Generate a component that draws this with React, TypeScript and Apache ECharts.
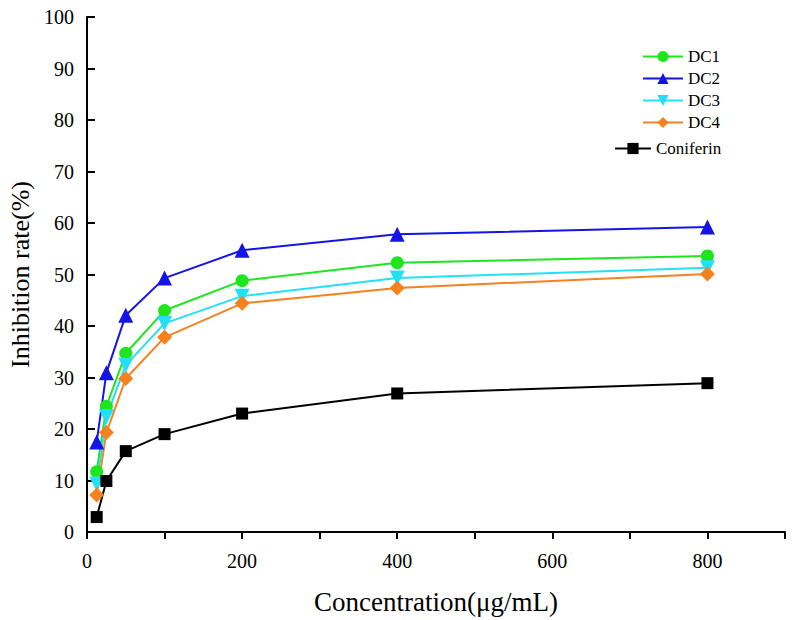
import { useEffect, useRef } from "react";
import * as echarts from "echarts";

const concentrations = [12.5, 25, 50, 100, 200, 400, 800];
const dc1 = [11.7, 24.4, 34.7, 43.0, 48.8, 52.3, 53.6];
const dc2 = [17.5, 30.9, 42.1, 49.3, 54.7, 57.8, 59.2];
const dc3 = [9.3, 22.4, 32.4, 40.5, 45.8, 49.3, 51.3];
const dc4 = [7.2, 19.3, 29.8, 37.8, 44.4, 47.4, 50.1];
const coniferin = [2.9, 9.9, 15.7, 19.0, 23.0, 26.9, 28.9];

const FONT = "Liberation Serif";

const pairs = (vals: number[]) => concentrations.map((c, i) => [c, vals[i]]);

export default function App() {
  const chartRef = useRef<HTMLDivElement>(null);

  useEffect(() => {
    if (!chartRef.current) return;
    const chart = echarts.init(chartRef.current, null, { renderer: "svg" });

    const line = (
      name: string,
      vals: number[],
      color: string,
      symbol: string,
      symbolSize: number,
      symbolRotate = 0
    ) => ({
      name,
      type: "line",
      data: pairs(vals),
      symbol,
      symbolSize,
      symbolRotate,
      lineStyle: { color, width: 2 },
      itemStyle: { color, borderWidth: 0 },
      z: 3,
    });

    chart.setOption({
      animation: false,
      backgroundColor: "#ffffff",
      grid: {
        left: 87,
        top: 17,
        right: 13,
        bottom: 88,
        containLabel: false,
        outerBoundsMode: "none",
      },
      legend: [
        {
          data: ["DC1", "DC2", "DC3", "DC4"],
          orient: "vertical",
          left: 637,
          top: 43,
          itemWidth: 40,
          itemHeight: 14,
          itemGap: 5,
          textStyle: { fontFamily: FONT, fontSize: 17, color: "#000" },
        },
        {
          data: ["Coniferin"],
          orient: "vertical",
          left: 609,
          top: 135,
          itemWidth: 36,
          itemHeight: 14,
          textStyle: { fontFamily: FONT, fontSize: 17, color: "#000" },
        },
      ],
      xAxis: {
        type: "value",
        min: 0,
        max: 900,
        interval: 100,
        name: "Concentration(μg/mL)",
        nameLocation: "middle",
        nameGap: 56,
        nameTextStyle: { fontFamily: FONT, fontSize: 27, color: "#000" },
        axisLine: { show: true, lineStyle: { color: "#000", width: 2 } },
        axisTick: { show: true, inside: false, length: 7, lineStyle: { color: "#000", width: 2 } },
        axisLabel: {
          fontFamily: FONT,
          fontSize: 20,
          color: "#000",
          margin: 19,
          formatter: (v: number) => (v % 200 === 0 && v < 900 ? String(v) : ""),
        },
        splitLine: { show: false },
      },
      yAxis: {
        type: "value",
        min: 0,
        max: 100,
        interval: 10,
        name: "Inhibition rate(%)",
        nameLocation: "middle",
        nameGap: 53,
        nameTextStyle: { fontFamily: FONT, fontSize: 26, color: "#000" },
        axisLine: { show: true, lineStyle: { color: "#000", width: 2 } },
        axisTick: { show: true, inside: true, length: 8, lineStyle: { color: "#000", width: 2 } },
        axisLabel: { fontFamily: FONT, fontSize: 20, color: "#000", margin: 13 },
        splitLine: { show: false },
      },
      series: [
        line("DC1", dc1, "#1ee61e", "circle", 13),
        line("DC2", dc2, "#1414e6", "triangle", 15),
        line("DC3", dc3, "#22e0f5", "triangle", 15, 180),
        line("DC4", dc4, "#f5821e", "diamond", 15),
        line("Coniferin", coniferin, "#000000", "rect", 12),
      ],
    });

    return () => {
      chart.dispose();
    };
  }, []);

  return (
    <div
      ref={chartRef}
      style={{ position: "fixed", left: 0, top: 0, width: 798, height: 620 }}
    />
  );
}
